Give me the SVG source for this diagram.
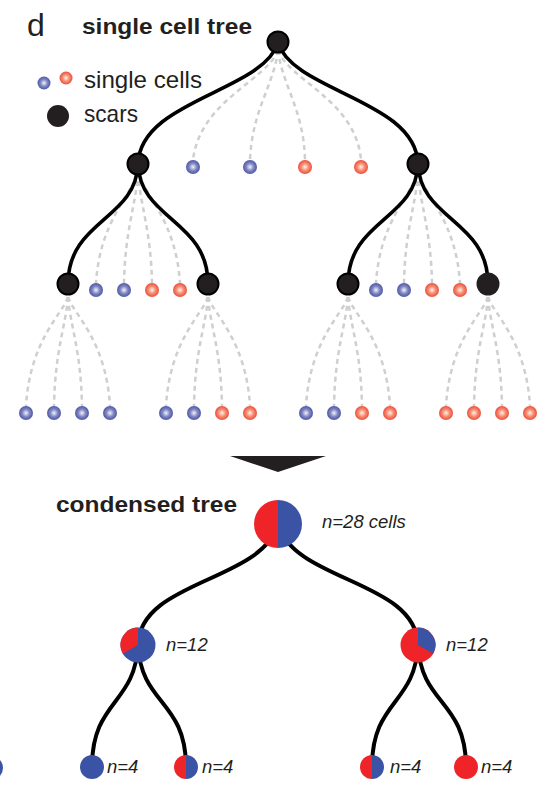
<svg xmlns="http://www.w3.org/2000/svg" width="541" height="787" viewBox="0 0 541 787">
<defs>
<radialGradient id="gb" cx="0.5" cy="0.5" r="0.6">
<stop offset="0" stop-color="#f4f4fb"/>
<stop offset="0.45" stop-color="#7f86c2"/>
<stop offset="1" stop-color="#38439a"/>
</radialGradient>
<radialGradient id="gr" cx="0.5" cy="0.5" r="0.6">
<stop offset="0" stop-color="#fff2ea"/>
<stop offset="0.45" stop-color="#f58a6e"/>
<stop offset="1" stop-color="#e93528"/>
</radialGradient>
<style>
.txt{font-family:"Liberation Sans",Arial,sans-serif;fill:#231f20}
.bold{font-weight:bold}
.it{font-style:italic;font-size:18.5px}
.solid{fill:none;stroke:#000;stroke-width:3.6;stroke-linecap:round}
.solid2{fill:none;stroke:#000;stroke-width:4;stroke-linecap:round}
.dash{fill:none;stroke:#cfcfcf;stroke-width:2.5;stroke-dasharray:5 4}
.scar{fill:#231f20;stroke:#000;stroke-width:2}
.cb{fill:url(#gb)}
.cr{fill:url(#gr)}
.R{fill:#ee2428}
.B{fill:#3a53a4}
</style>
</defs>
<rect width="541" height="787" fill="#fff"/>

<text class="txt" x="27" y="36" font-size="32">d</text>
<text class="txt bold" x="82" y="34" font-size="22" textLength="170" lengthAdjust="spacingAndGlyphs">single cell tree</text>

<g id="legend">
<circle class="cb" cx="44" cy="83" r="6.5"/>
<circle class="cr" cx="66" cy="78" r="6.5"/>
<text class="txt" x="84" y="88" font-size="24" textLength="118" lengthAdjust="spacingAndGlyphs">single cells</text>
<circle cx="58" cy="116" r="11" fill="#231f20"/>
<text class="txt" x="84" y="122" font-size="24" textLength="54" lengthAdjust="spacingAndGlyphs">scars</text>
</g>

<g id="connectors">
<path class="dash" d="M278,50 C268,80 200,100 193,160"/>
<path class="dash" d="M278,50 C274,85 252,110 250,160"/>
<path class="dash" d="M278,50 C282,85 304,110 305,160"/>
<path class="dash" d="M278,50 C288,80 356,100 361,160"/>
<path class="dash" d="M138,172 C132,195 100,220 96,283"/>
<path class="dash" d="M138,172 C136,205 125,230 124,283"/>
<path class="dash" d="M138,172 C140,205 151,230 152,283"/>
<path class="dash" d="M138,172 C144,195 176,220 180,283"/>
<path class="dash" d="M418,172 C412,195 380,220 376,283"/>
<path class="dash" d="M418,172 C416,205 405,230 404,283"/>
<path class="dash" d="M418,172 C420,205 431,230 432,283"/>
<path class="dash" d="M418,172 C424,195 456,220 460,283"/>
<path class="dash" d="M68,297 C62,315 30,340 26,406"/>
<path class="dash" d="M68,297 C66,325 55,350 54,406"/>
<path class="dash" d="M68,297 C70,325 81,350 82,406"/>
<path class="dash" d="M68,297 C74,315 106,340 110,406"/>
<path class="dash" d="M208,297 C202,315 170,340 166,406"/>
<path class="dash" d="M208,297 C206,325 195,350 194,406"/>
<path class="dash" d="M208,297 C210,325 221,350 222,406"/>
<path class="dash" d="M208,297 C214,315 246,340 250,406"/>
<path class="dash" d="M348,297 C342,315 310,340 306,406"/>
<path class="dash" d="M348,297 C346,325 335,350 334,406"/>
<path class="dash" d="M348,297 C350,325 361,350 362,406"/>
<path class="dash" d="M348,297 C354,315 386,340 390,406"/>
<path class="dash" d="M488,297 C482,315 450,340 446,406"/>
<path class="dash" d="M488,297 C486,325 475,350 474,406"/>
<path class="dash" d="M488,297 C490,325 501,350 502,406"/>
<path class="dash" d="M488,297 C494,315 526,340 530,406"/>
<path class="solid" d="M278,43 C262,92 140,100 138,164"/>
<path class="solid" d="M278,43 C294,92 416,100 418,164"/>
<path class="solid" d="M138,164 C136,220 68,220 68,284"/>
<path class="solid" d="M138,164 C140,220 208,220 208,284"/>
<path class="solid" d="M418,164 C416,220 348,220 348,284"/>
<path class="solid" d="M418,164 C420,220 488,220 488,284"/>
<path class="solid2" d="M278,524 C262,582 140,580 138,645"/>
<path class="solid2" d="M278,524 C294,582 416,580 418,645"/>
<path class="solid2" d="M138,645 C135,705 92,700 92,767"/>
<path class="solid2" d="M138,645 C141,705 186,700 186,767"/>
<path class="solid2" d="M418,645 C415,705 372,700 372,767"/>
<path class="solid2" d="M418,645 C421,705 466,700 466,767"/>
</g>

<g id="scars">
<circle class="scar" cx="278" cy="42" r="10.5"/>
<circle class="scar" cx="138" cy="164" r="10.5"/>
<circle class="scar" cx="418" cy="164" r="10.5"/>
<circle class="scar" cx="68" cy="284" r="10.5"/>
<circle class="scar" cx="208" cy="284" r="10.5"/>
<circle class="scar" cx="348" cy="284" r="10.5"/>
<circle cx="488" cy="284" r="11.5" fill="#231f20"/>
</g>

<g id="cells">
<circle class="cb" cx="193" cy="167" r="7"/>
<circle class="cb" cx="250" cy="167" r="7"/>
<circle class="cr" cx="305" cy="167" r="7"/>
<circle class="cr" cx="361" cy="167" r="7"/>
<circle class="cb" cx="96" cy="290" r="7"/>
<circle class="cb" cx="124" cy="290" r="7"/>
<circle class="cr" cx="152" cy="290" r="7"/>
<circle class="cr" cx="180" cy="290" r="7"/>
<circle class="cb" cx="376" cy="290" r="7"/>
<circle class="cb" cx="404" cy="290" r="7"/>
<circle class="cr" cx="432" cy="290" r="7"/>
<circle class="cr" cx="460" cy="290" r="7"/>
<circle class="cb" cx="26" cy="413" r="7"/>
<circle class="cb" cx="54" cy="413" r="7"/>
<circle class="cb" cx="82" cy="413" r="7"/>
<circle class="cb" cx="110" cy="413" r="7"/>
<circle class="cb" cx="166" cy="413" r="7"/>
<circle class="cb" cx="194" cy="413" r="7"/>
<circle class="cr" cx="222" cy="413" r="7"/>
<circle class="cr" cx="250" cy="413" r="7"/>
<circle class="cb" cx="306" cy="413" r="7"/>
<circle class="cb" cx="334" cy="413" r="7"/>
<circle class="cr" cx="362" cy="413" r="7"/>
<circle class="cr" cx="390" cy="413" r="7"/>
<circle class="cr" cx="446" cy="413" r="7"/>
<circle class="cr" cx="474" cy="413" r="7"/>
<circle class="cr" cx="502" cy="413" r="7"/>
<circle class="cr" cx="530" cy="413" r="7"/>
</g>

<polygon id="arrow" points="230,456 326,456 278,472" fill="#231f20"/>

<text class="txt bold" x="56" y="512" font-size="22" textLength="181" lengthAdjust="spacingAndGlyphs">condensed tree</text>

<g id="root-pie">
<path class="R" d="M278,500 A24,24 0 0 0 278,548 Z"/>
<path class="B" d="M278,500 A24,24 0 0 1 278,548 Z"/>
<text class="txt it" x="322" y="528">n=28 cells</text>
</g>

<g id="left-pie">
<circle class="B" cx="138" cy="645" r="17.5"/>
<path class="R" d="M138,645 L138,627.5 A17.5,17.5 0 0 0 122.84,653.75 Z"/>
<text class="txt it" x="166" y="651">n=12</text>
</g>

<g id="right-pie">
<circle class="R" cx="418" cy="645" r="17.5"/>
<path class="B" d="M418,645 L418,627.5 A17.5,17.5 0 0 1 433.16,653.75 Z"/>
<text class="txt it" x="446" y="651">n=12</text>
</g>

<g id="leaf-edge">
<circle class="B" cx="-9" cy="768" r="12"/>
</g>
<g id="leaf1">
<circle class="B" cx="92" cy="767" r="12"/>
<text class="txt it" x="107" y="773">n=4</text>
</g>
<g id="leaf2">
<path class="R" d="M186,755 A12,12 0 0 0 186,779 Z"/>
<path class="B" d="M186,755 A12,12 0 0 1 186,779 Z"/>
<text class="txt it" x="202" y="773">n=4</text>
</g>
<g id="leaf3">
<path class="R" d="M372,755 A12,12 0 0 0 372,779 Z"/>
<path class="B" d="M372,755 A12,12 0 0 1 372,779 Z"/>
<text class="txt it" x="390" y="773">n=4</text>
</g>
<g id="leaf4">
<circle class="R" cx="466" cy="767" r="12"/>
<text class="txt it" x="481" y="773">n=4</text>
</g>
</svg>
